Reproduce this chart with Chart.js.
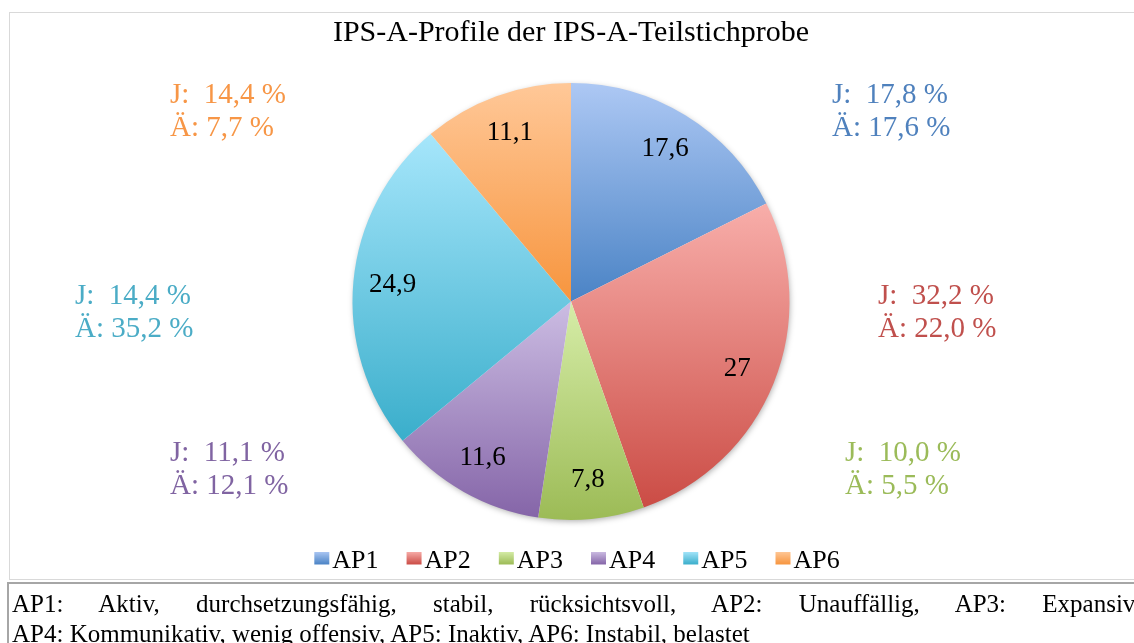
<!DOCTYPE html>
<html>
<head>
<meta charset="utf-8">
<script src="https://cdn.jsdelivr.net/npm/chart.js@4.4.1/dist/chart.umd.min.js"></script>
<style>
html, body { margin: 0; padding: 0; background: #fff; overflow: hidden; width: 1134px; height: 643px; }
#frame { position: absolute; left: 9px; top: 12px; width: 1200px; height: 566px; border: 1px solid #d9d9d9; }
#wrap { position: absolute; left: 10px; top: 13px; width: 1122px; height: 571px; }
#note { position: absolute; left: 7px; top: 582px; width: 1200px; height: 80px;
  border-top: 2px solid #a6a6a6; border-left: 2px solid #a6a6a6; padding: 5px 0 0 3px;
  font-family: "Liberation Serif", "Times New Roman", serif; font-size: 25px; line-height: 30px; color: #000; }
#note .l1 { width: 1128px; text-align: justify; text-align-last: justify; }
</style>
</head>
<body>
<div id="frame"></div>
<div id="wrap"><canvas id="myChart"></canvas></div>
<div id="note">
  <div class="l1">AP1: Aktiv, durchsetzungsfähig, stabil, rücksichtsvoll, AP2: Unauffällig, AP3: Expansiv,</div>
  <div>AP4: Kommunikativ, wenig offensiv, AP5: Inaktiv, AP6: Instabil, belastet</div>
</div>
<script>
// data
var profiles = ['AP1', 'AP2', 'AP3', 'AP4', 'AP5', 'AP6'];
var sampleValues = [17.6, 27, 7.8, 11.6, 24.9, 11.1];
var jValues = [17.8, 32.2, 10.0, 11.1, 14.4, 14.4];
var aeValues = [17.6, 22.0, 5.5, 12.1, 35.2, 7.7];

// styles
var sliceTop = ['#adc8f4', '#f8aeaa', '#d6eda8', '#ccbde3', '#a6e6fb', '#ffc898'];
var sliceBottom = ['#4a83c5', '#cb4c45', '#9cbb56', '#8565a8', '#3aaecb', '#f7953e'];
var calloutColors = ['#4f81bd', '#c0504d', '#9bbb59', '#8064a2', '#4bacc6', '#f79646'];
// offsets of the J/Ä texts from the pie centre (first baseline)
var calloutOffsets = [[261, -199], [307, 2], [274, 159], [-401, 159], [-496, 2], [-401, -199]];

var serif = '"Liberation Serif", "Times New Roman", serif';
Chart.defaults.font.family = serif;

function deNum(v) {
  return String(v).replace('.', ',');
}
function pct(v) {
  return v.toFixed(1).replace('.', ',') + ' %';
}

// vertical gradient over each slice's own bounding box
function sliceGradient(context) {
  var chart = context.chart;
  var area = chart.chartArea;
  var i = context.dataIndex;
  if (!area || i === undefined) return sliceBottom[i] || '#999';
  var vals = chart.data.datasets[0].data;
  var cx = (area.left + area.right) / 2, cy = (area.top + area.bottom) / 2;
  var r = Math.min(area.right - area.left, area.bottom - area.top) / 2;
  var total = 0, before = 0;
  for (var k = 0; k < vals.length; k++) {
    total += vals[k];
    if (k < i) before += vals[k];
  }
  var a0 = -Math.PI / 2 + 2 * Math.PI * before / total;
  var a1 = a0 + 2 * Math.PI * vals[i] / total;
  var ys = [cy, cy + r * Math.sin(a0), cy + r * Math.sin(a1)];
  function within(a) { return a >= a0 && a <= a1; }
  if (within(-Math.PI / 2) || within(3 * Math.PI / 2)) ys.push(cy - r);
  if (within(Math.PI / 2)) ys.push(cy + r);
  var g = chart.ctx.createLinearGradient(0, Math.min.apply(null, ys), 0, Math.max.apply(null, ys));
  g.addColorStop(0, sliceTop[i]);
  g.addColorStop(1, sliceBottom[i]);
  return g;
}

// legend icons: small gradient squares, placed right of centre so the gap to the text is small
var legendIcons = profiles.map(function(p, i) {
  var c = document.createElement('canvas');
  c.width = 31; c.height = 19;
  var x = c.getContext('2d');
  var g = x.createLinearGradient(0, 0, 0, 13);
  g.addColorStop(0, sliceTop[i]);
  g.addColorStop(1, sliceBottom[i]);
  x.fillStyle = g;
  x.fillRect(13, 0, 15, 13);
  return c;
});

var pieShadow = {
  id: 'pieShadow',
  beforeDatasetsDraw: function(chart) {
    var arc = chart.getDatasetMeta(0).data[0];
    if (!arc) return;
    var p = arc.getProps(['x', 'y', 'outerRadius'], true);
    var ctx = chart.ctx;
    ctx.save();
    ctx.shadowColor = 'rgba(0,0,0,0.35)';
    ctx.shadowBlur = 6;
    ctx.shadowOffsetX = 1;
    ctx.shadowOffsetY = 2;
    ctx.fillStyle = '#fff';
    ctx.beginPath();
    ctx.arc(p.x, p.y, p.outerRadius - 1, 0, Math.PI * 2);
    ctx.fill();
    ctx.restore();
  }
};

var sliceLabels = {
  id: 'sliceLabels',
  afterDatasetsDraw: function(chart) {
    var ctx = chart.ctx;
    var meta = chart.getDatasetMeta(0);
    ctx.save();
    ctx.font = '27px ' + serif;
    ctx.fillStyle = '#000';
    ctx.textAlign = 'center';
    ctx.textBaseline = 'middle';
    meta.data.forEach(function(arc, i) {
      var p = arc.getProps(['x', 'y', 'startAngle', 'endAngle', 'outerRadius'], true);
      var mid = (p.startAngle + p.endAngle) / 2;
      var r = p.outerRadius * 0.82;
      ctx.fillText(deNum(chart.data.datasets[0].data[i]), p.x + Math.cos(mid) * r, p.y + Math.sin(mid) * r);
    });
    ctx.restore();
  }
};

var callouts = {
  id: 'callouts',
  afterDraw: function(chart) {
    var arc = chart.getDatasetMeta(0).data[0];
    if (!arc) return;
    var c = arc.getProps(['x', 'y'], true);
    var ctx = chart.ctx;
    ctx.save();
    ctx.font = '29px ' + serif;
    ctx.textAlign = 'left';
    ctx.textBaseline = 'alphabetic';
    for (var i = 0; i < profiles.length; i++) {
      var x = c.x + calloutOffsets[i][0];
      var y = c.y + calloutOffsets[i][1];
      ctx.fillStyle = calloutColors[i];
      ctx.fillText('J:  ' + pct(jValues[i]), x, y);
      ctx.fillText('Ä: ' + pct(aeValues[i]), x, y + 33.5);
    }
    ctx.restore();
  }
};

// the legend row sits a little right of the pie centre in the original
var legendShift = {
  id: 'legendShift',
  afterLayout: function(chart) {
    chart.legend.left += 6;
    chart.legend.right += 6;
  }
};

var ctx = document.getElementById('myChart');
var myChart = new Chart(ctx, {
  type: 'pie',
  data: {
    labels: profiles,
    datasets: [{
      data: sampleValues,
      backgroundColor: sliceGradient,
      borderWidth: 0,
      hoverOffset: 0
    }]
  },
  options: {
    responsive: true,
    maintainAspectRatio: false,
    animation: false,
    events: [],
    layout: { padding: 0 },
    plugins: {
      title: {
        display: true,
        text: 'IPS-A-Profile der IPS-A-Teilstichprobe',
        color: '#000',
        font: { family: serif, size: 30, weight: 'normal' },
        padding: { top: 2, bottom: 32 }
      },
      legend: {
        position: 'bottom',
        labels: {
          usePointStyle: true,
          pointStyleWidth: 5,
          color: '#000',
          padding: 28,
          font: { family: serif, size: 26 },
          generateLabels: function(chart) {
            var items = Chart.overrides.pie.plugins.legend.labels.generateLabels(chart);
            items.forEach(function(it, i) { it.pointStyle = legendIcons[i]; });
            return items;
          }
        }
      },
      tooltip: { enabled: false }
    }
  },
  plugins: [pieShadow, sliceLabels, callouts, legendShift]
});
</script>
</body>
</html>
